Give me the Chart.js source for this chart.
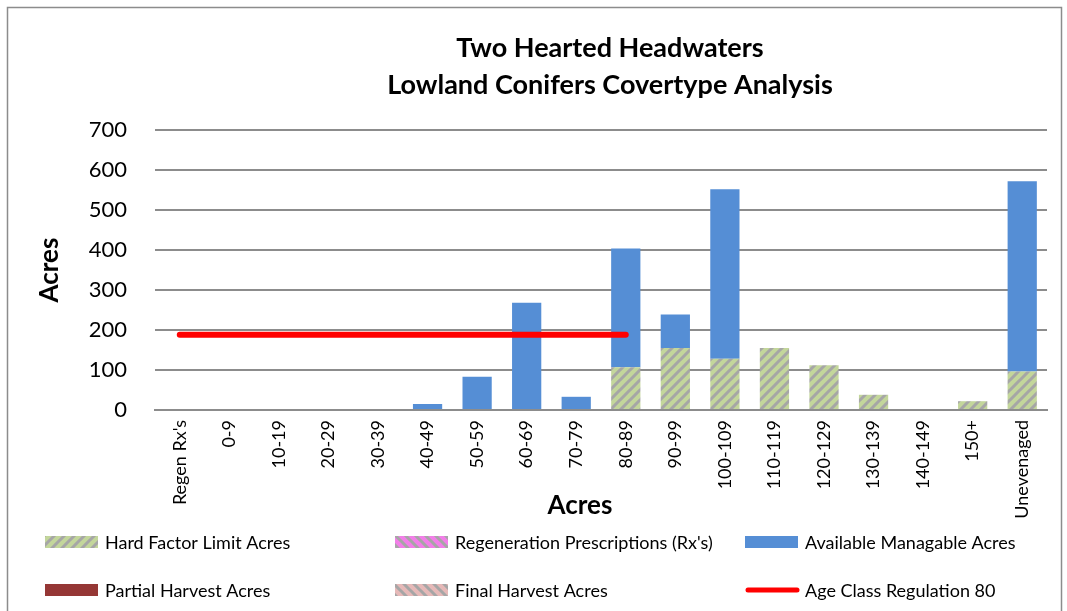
<!DOCTYPE html>
<html>
<head>
<meta charset="utf-8">
<script src="https://cdn.jsdelivr.net/npm/chart.js@4"></script>
<style>
  body { margin: 0; background: #fff; }
  #wrap { position: relative; width: 1067px; height: 611px; }
</style>
</head>
<body>
<div id="wrap"><canvas id="chart" width="1067" height="611"></canvas></div>
<script>
const categories = ["Regen Rx's", "0-9", "10-19", "20-29", "30-39", "40-49", "50-59", "60-69", "70-79",
  "80-89", "90-99", "100-109", "110-119", "120-129", "130-139", "140-149", "150+", "Unevenaged"];
const hardFactor = [0, 0, 0, 0, 0, 0, 0, 0, 0, 107, 155, 128, 155, 112, 38, 0, 22, 96];
const regenRx = [0, 0, 0, 0, 0, 0, 0, 0, 0, 0, 0, 0, 0, 0, 0, 0, 0, 0];
const available = [0, 0, 0, 0, 0, 15, 83, 268, 33, 297, 84, 424, 0, 0, 0, 0, 0, 476];
const partialHarvest = [0, 0, 0, 0, 0, 0, 0, 0, 0, 0, 0, 0, 0, 0, 0, 0, 0, 0];
const finalHarvest = [0, 0, 0, 0, 0, 0, 0, 0, 0, 0, 0, 0, 0, 0, 0, 0, 0, 0];
const ageClassReg = [188, 188, 188, 188, 188, 188, 188, 188, 188, 188, null, null, null, null, null, null, null, null];
const yTicks = [0, 100, 200, 300, 400, 500, 600, 700];
const titleLines = ["Two Hearted Headwaters", "Lowland Conifers Covertype Analysis"];
const axisTitle = "Acres";

const FONT = "Lato, 'Open Sans', sans-serif";

// diagonal stripe fill like the excel pattern
function stripes(bg, fg, forward) {
  const c = document.createElement("canvas");
  c.width = 10; c.height = 10;
  const g = c.getContext("2d");
  g.fillStyle = bg;
  g.fillRect(0, 0, 10, 10);
  g.strokeStyle = fg;
  g.lineWidth = 3;
  g.beginPath();
  if (forward) {
    g.moveTo(-5, 5); g.lineTo(5, -5);
    g.moveTo(0, 10); g.lineTo(10, 0);
    g.moveTo(5, 15); g.lineTo(15, 5);
  } else {
    g.moveTo(-5, 5); g.lineTo(5, 15);
    g.moveTo(0, 0); g.lineTo(10, 10);
    g.moveTo(5, -5); g.lineTo(15, 5);
  }
  g.stroke();
  return g.createPattern(c, "repeat");
}

const greenPat = stripes("#C3D69B", "#A6A6A6", true);
const pinkPat = stripes("#F27EE8", "#A6A6A6", false);
const rosePat = stripes("#E6B9B8", "#A6A6A6", false);

const framePlugin = {
  id: "frame",
  beforeDraw(chart) {
    const ctx = chart.ctx;
    ctx.save();
    ctx.fillStyle = "#fff";
    ctx.fillRect(0, 0, chart.width, chart.height);
    ctx.strokeStyle = "#8c8c8c";
    ctx.lineWidth = 1.5;
    ctx.strokeRect(7.5, 7.5, 1054, 700);
    ctx.restore();
  }
};

// chart title and axis titles, placed where excel put them
const titles = {
  id: "titles",
  afterDraw(chart) {
    const ctx = chart.ctx;
    ctx.save();
    ctx.fillStyle = "#000";
    ctx.textAlign = "center";
    ctx.textBaseline = "middle";
    ctx.font = "bold 27px " + FONT;
    ctx.fillText(titleLines[0], 610, 48);
    ctx.fillText(titleLines[1], 610, 85);
    ctx.font = "bold 26px " + FONT;
    ctx.fillText(axisTitle, 580, 506);
    ctx.translate(50, 270);
    ctx.rotate(-Math.PI / 2);
    ctx.fillText(axisTitle, 0, 0);
    ctx.restore();
  }
};

// legend laid out in a 3 column grid
const gridLegend = {
  id: "gridLegend",
  afterDraw(chart) {
    const ctx = chart.ctx;
    const cols = [45, 395, 745];
    const rows = [542, 590];
    ctx.save();
    ctx.font = "18px " + FONT;
    ctx.textBaseline = "middle";
    chart.data.datasets.forEach((ds, i) => {
      const x = cols[i % 3];
      const y = rows[Math.floor(i / 3)];
      if (ds.type === "line") {
        ctx.strokeStyle = ds.borderColor;
        ctx.lineWidth = 5;
        ctx.lineCap = "round";
        ctx.beginPath();
        ctx.moveTo(x + 3, y);
        ctx.lineTo(x + 52, y);
        ctx.stroke();
      } else {
        ctx.fillStyle = ds.backgroundColor;
        ctx.fillRect(x, y - 6, 53, 12);
      }
      ctx.fillStyle = "#000";
      ctx.fillText(ds.label, x + 60, y + 1);
    });
    ctx.restore();
  }
};

new Chart(document.getElementById("chart"), {
  type: "bar",
  data: {
    labels: categories,
    datasets: [
      { label: "Hard Factor Limit Acres", data: hardFactor, backgroundColor: greenPat, stack: "s" },
      { label: "Regeneration Prescriptions (Rx's)", data: regenRx, backgroundColor: pinkPat, stack: "s" },
      { label: "Available Managable Acres", data: available, backgroundColor: "#558ED5", stack: "s" },
      { label: "Partial Harvest Acres", data: partialHarvest, backgroundColor: "#953735", stack: "s" },
      { label: "Final Harvest Acres", data: finalHarvest, backgroundColor: rosePat, stack: "s" },
      { label: "Age Class Regulation 80", data: ageClassReg, type: "line", stack: "line",
        borderColor: "#FF0000", backgroundColor: "#FF0000", borderWidth: 6,
        borderCapStyle: "round", pointRadius: 0, spanGaps: false, order: -1 }
    ]
  },
  options: {
    responsive: false,
    animation: false,
    layout: { padding: { top: 130, left: 0, right: 20, bottom: 81 } },
    datasets: { bar: { categoryPercentage: 1, barPercentage: 0.59 } },
    plugins: {
      legend: { display: false },
      tooltip: { enabled: false },
      title: { display: false }
    },
    scales: {
      x: {
        stacked: true,
        afterFit(s) { s.height = 120; },
        grid: { display: false, drawTicks: false },
        border: { display: true, color: "#8c8c8c", width: 2 },
        ticks: { color: "#000", font: { family: FONT, size: 18 }, maxRotation: 90, minRotation: 90, autoSkip: false, padding: 10 }
      },
      y: {
        stacked: true,
        min: 0, max: 700,
        afterFit(s) { s.width = 155; },
        afterBuildTicks(scale) { scale.ticks = yTicks.map(v => ({ value: v })); },
        grid: { color: "#8c8c8c", lineWidth: 2, drawTicks: false },
        border: { display: false },
        ticks: { color: "#000", font: { family: FONT, size: 22 }, padding: 28 }
      }
    }
  },
  plugins: [framePlugin, titles, gridLegend]
});
</script>
</body>
</html>
